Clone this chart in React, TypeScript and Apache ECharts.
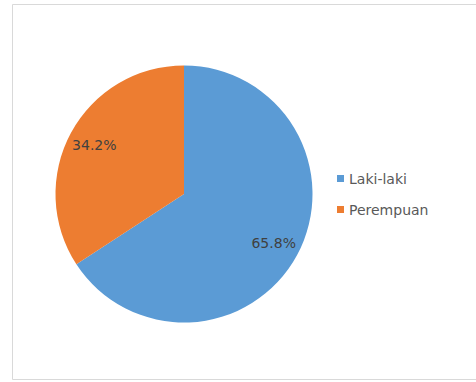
import React, { useEffect, useRef } from "react";
import * as echarts from "echarts";

const categories = ["Laki-laki", "Perempuan"];
const values = [65.8, 34.2];
const colors = ["#5B9BD5", "#ED7D31"];

export default function App() {
  const ref = useRef<HTMLDivElement>(null);
  useEffect(() => {
    if (!ref.current) return;
    const chart = echarts.init(ref.current, null, { renderer: "svg" });
    const data = categories.map((name, i) => ({ name, value: values[i] }));
    const font = "DejaVu Sans";
    chart.setOption({
      animation: false,
      backgroundColor: "#ffffff",
      color: colors,
      graphic: [
        {
          type: "rect",
          shape: { x: 12.5, y: 4.5, width: 480, height: 375 },
          style: { fill: "none", stroke: "#d9d9d9", lineWidth: 1 },
          silent: true,
        },
      ],
      legend: {
        orient: "vertical",
        left: 332,
        top: 166,
        icon: "rect",
        itemWidth: 7,
        itemHeight: 7,
        itemGap: 16,
        data: categories,
        textStyle: { fontFamily: font, fontSize: 14, color: "#595959", lineHeight: 15 },
        selectedMode: false,
      },
      series: [
        {
          type: "pie",
          center: [184, 194],
          radius: [0, 128.5],
          startAngle: 90,
          clockwise: true,
          data,
          label: { show: false },
          labelLine: { show: false },
          emphasis: { disabled: true },
          silent: true,
        },
        {
          type: "pie",
          center: [184, 194],
          radius: [0, 198],
          startAngle: 90,
          clockwise: true,
          data,
          itemStyle: { color: "transparent" },
          label: {
            show: true,
            position: "inside",
            formatter: (p: any) => p.value.toFixed(1) + "%",
            fontFamily: font,
            fontSize: 14,
            color: "#404040",
          },
          labelLine: { show: false },
          emphasis: { disabled: true },
          silent: true,
        },
      ],
    });
    return () => chart.dispose();
  }, []);
  return (
    <div
      ref={ref}
      style={{ position: "absolute", left: 0, top: 0, width: 476, height: 382 }}
    />
  );
}
